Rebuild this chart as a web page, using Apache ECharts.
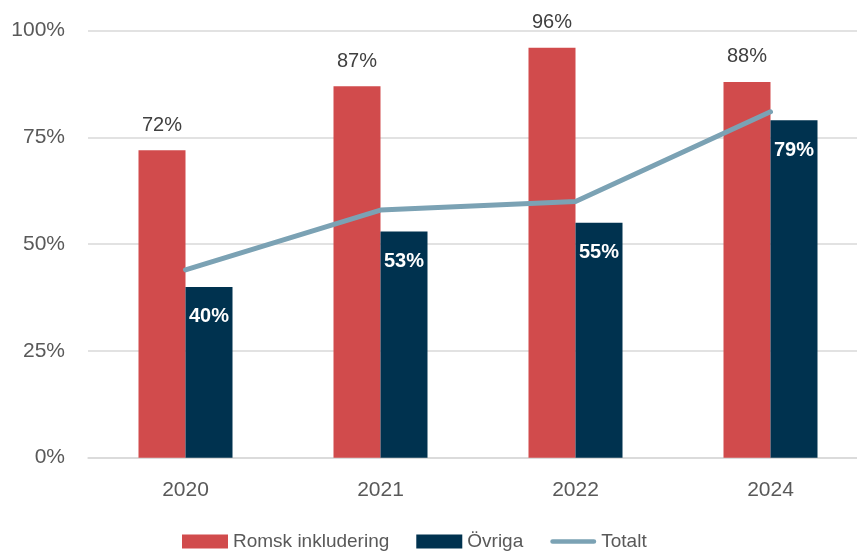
<!DOCTYPE html>
<html>
<head>
<meta charset="utf-8">
<script src="https://cdn.jsdelivr.net/npm/echarts@6/dist/echarts.min.js"></script>
<style>
  html, body { margin: 0; padding: 0; background: #fff; }
  #chart { width: 857px; height: 552px; }
</style>
</head>
<body>
<div id="chart"></div>
<script>
const years = ['2020', '2021', '2022', '2024']
const romsk = [72, 87, 96, 88]
const ovriga = [40, 53, 55, 79]
const totalt = [44, 58, 60, 81]
const yTicks = [0, 25, 50, 75, 100]

const chart = echarts.init(document.getElementById('chart'))
const axisFont = 'Liberation Sans'
// capsule shape for the line legend item
const lineIcon = 'path://M2.5,0 L46.5,0 A2.5,2.5 0 0 1 46.5,5 L2.5,5 A2.5,2.5 0 0 1 2.5,0 Z'

chart.setOption({
  animation: false,
  grid: { left: 88, width: 780, top: 30.7, bottom: 94.3, outerBoundsMode: 'none' },
  legend: {
    left: 177,
    top: 527,
    itemWidth: 46,
    itemHeight: 14,
    itemGap: 27,
    textStyle: { fontFamily: axisFont, fontSize: 19, color: '#595959' },
    data: [
      { name: 'Romsk inkludering', icon: 'rect' },
      { name: 'Övriga', icon: 'rect' },
      { name: 'Totalt', icon: lineIcon }
    ]
  },
  xAxis: {
    type: 'category',
    data: years,
    axisTick: { show: false },
    axisLine: { lineStyle: { color: '#D9D9D9', width: 1.5 } },
    axisLabel: { fontFamily: axisFont, fontSize: 21, color: '#595959', margin: 22 }
  },
  yAxis: {
    type: 'value',
    min: yTicks[0],
    max: yTicks[yTicks.length - 1],
    interval: 25,
    axisLine: { show: false },
    axisTick: { show: false },
    splitLine: { lineStyle: { color: '#D9D9D9', width: 1.5 } },
    axisLabel: { fontFamily: axisFont, fontSize: 21, color: '#595959', margin: 23, formatter: '{value}%' }
  },
  series: [
    {
      name: 'Romsk inkludering',
      type: 'bar',
      data: romsk,
      barWidth: 47,
      barGap: '0%',
      itemStyle: { color: '#D14B4C' },
      label: {
        show: true, position: 'top', distance: 15, formatter: '{c}%',
        fontFamily: axisFont, fontSize: 20, color: '#404040'
      }
    },
    {
      name: 'Övriga',
      type: 'bar',
      data: ovriga,
      barWidth: 47,
      itemStyle: { color: '#00324F' },
      label: {
        show: true, position: 'insideTop', distance: 20, formatter: '{c}%',
        fontFamily: axisFont, fontSize: 20, fontWeight: 'bold', color: '#fff'
      },
      z: 2
    },
    {
      name: 'Totalt',
      type: 'line',
      data: totalt,
      symbol: 'none',
      lineStyle: { color: '#7BA2B4', width: 5, cap: 'round', join: 'round' },
      itemStyle: { color: '#7BA2B4' },
      z: 5
    }
  ]
})
</script>
</body>
</html>
